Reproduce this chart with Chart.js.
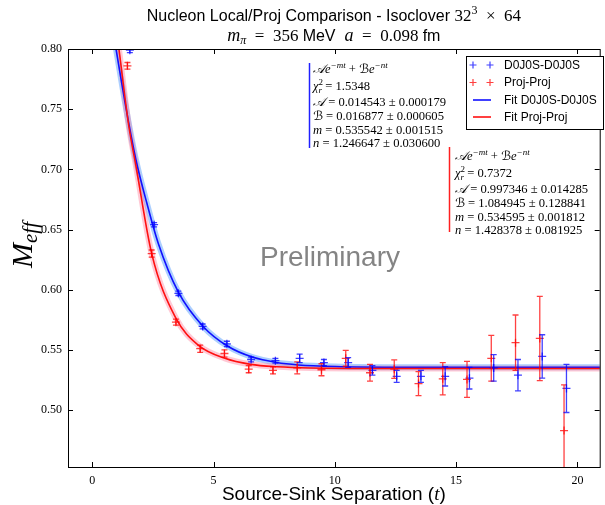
<!DOCTYPE html>
<html><head><meta charset="utf-8">
<script src="https://cdn.jsdelivr.net/npm/chart.js@4.4.0/dist/chart.umd.min.js"></script>
<style>html,body{margin:0;padding:0;background:#fff;}#wrap{width:605px;height:505px;}</style>
</head><body><div id="wrap"><canvas id="c" width="605" height="505"></canvas></div>
<script>
// ---------------- data ----------------
const separations = [1.5,2.5,3.5,4.5,5.5,6.5,7.5,8.5,9.5,10.5,11.5,12.5,13.5,14.5,15.5,16.5,17.5,18.5,19.5];
const d0j0sValues = [0.799,0.654,0.597,0.5695,0.555,0.542,0.541,0.543,0.5395,0.5395,0.533,0.528,0.528,0.528,0.5265,0.535,0.529,0.5446,0.518];
const d0j0sErrors = [0.002,0.0018,0.0018,0.002,0.0022,0.002,0.002,0.0035,0.0025,0.004,0.004,0.005,0.005,0.008,0.009,0.011,0.013,0.018,0.020];
const projValues  = [0.786,0.630,0.573,0.551,0.547,0.534,0.533,0.535,0.5335,0.543,0.531,0.534,0.522,0.526,0.5255,0.543,0.556,0.5595,0.483];
const projErrors  = [0.0028,0.003,0.0025,0.003,0.003,0.003,0.003,0.005,0.005,0.0066,0.007,0.0077,0.010,0.0134,0.015,0.019,0.023,0.035,0.038];

const fitD0j0sT = [0.98,1.4,1.8,2.25,2.73,3.55,4.57,5.59,6.6,7.6,8.5,10,13,21];
const fitD0j0sM = [0.800,0.750,0.708,0.672,0.638,0.598,0.5695,0.553,0.544,0.5395,0.5375,0.5362,0.5356,0.5355];
const fitProjT  = [1.1,1.5,1.8,2.45,3.43,4.37,5.47,6.53,7.63,9,12,21];
const fitProjM  = [0.800,0.737,0.703,0.630,0.577,0.554,0.543,0.538,0.536,0.535,0.5346,0.5346];

const xTicks = [0,5,10,15,20];
const yTicks = [0.50,0.55,0.60,0.65,0.70,0.75,0.80];

const legendLabels = ['D0J0S-D0J0S','Proj-Proj','Fit D0J0S-D0J0S','Fit Proj-Proj'];
const fitD0j0sParams = {chi:'1.5348', A:'0.014543', dA:'0.000179', B:'0.016877', dB:'0.000605', m:'0.535542', dm:'0.001515', n:'1.246647', dn:'0.030600'};
const fitProjParams  = {chi:'0.7372', A:'0.997346', dA:'0.014285', B:'1.084945', dB:'0.128841', m:'0.534595', dm:'0.001812', n:'1.428378', dn:'0.081925'};

// ---------------- styling ----------------
const BLUE = 'rgba(0,0,255,0.75)', RED = 'rgba(255,0,0,0.75)';
const SERIF = '"Liberation Serif","DejaVu Serif",serif';
const SANS = '"Liberation Sans",Arial,sans-serif';
const CAL = '"DejaVu Serif","DejaVu Sans","Noto Sans",serif';
const dodge = 0.05;

const pts = (xs, ys) => xs.map((x,i)=>({x, y: ys[i]}));

function drawRich(ctx, x, y, segs, align){
  let w = 0;
  for (const s of segs){ ctx.font = s.f; if(!s.noAdv) w += ctx.measureText(s.t).width; }
  let cx = align === 'center' ? x - w/2 : x;
  ctx.textBaseline = 'alphabetic'; ctx.textAlign = 'left';
  for (const s of segs){
    ctx.font = s.f;
    ctx.fillText(s.t, cx, y + (s.dy||0));
    if(!s.noAdv) cx += ctx.measureText(s.t).width;
  }
}

function annotationLines(p){
  const rm = '12.6px '+SERIF, it = 'italic 12.6px '+SERIF, sm = 'italic 9px '+SERIF, smr = '9px '+SERIF, cal = 'italic 12.6px '+CAL;
  return [
    [{t:'𝒜',f:cal},{t:'e',f:it},{t:'−mt',f:sm,dy:-5},{t:' + ',f:rm},{t:'ℬ',f:cal},{t:'e',f:it},{t:'−nt',f:sm,dy:-5}],
    [{t:'χ',f:it},{t:'2',f:smr,dy:-5,noAdv:true},{t:'r',f:sm,dy:3},{t:' = '+p.chi,f:rm}],
    [{t:'𝒜',f:cal},{t:' = '+p.A+' ± '+p.dA,f:rm}],
    [{t:'ℬ',f:cal},{t:' = '+p.B+' ± '+p.dB,f:rm}],
    [{t:'m',f:it},{t:' = '+p.m+' ± '+p.dm,f:rm}],
    [{t:'n',f:it},{t:' = '+p.n+' ± '+p.dn,f:rm}]
  ];
}

function drawCross(ctx, x, y, r){
  ctx.beginPath(); ctx.moveTo(x-r,y); ctx.lineTo(x+r,y); ctx.moveTo(x,y-r); ctx.lineTo(x,y+r); ctx.stroke();
}

const deco = {
  id:'deco',
  beforeDatasetsDraw(chart){
    const ctx = chart.ctx;
    ctx.save();
    ctx.fillStyle = 'rgba(125,125,125,0.95)';
    ctx.font = '28px '+SANS; ctx.textAlign='center'; ctx.textBaseline='middle';
    ctx.fillText('Preliminary', 330, 258);
    ctx.restore();
  },
  afterDatasetsDraw(chart){
    const ctx = chart.ctx, a = chart.chartArea, xs = chart.scales.x, ys = chart.scales.y;
    // error bars
    ctx.save();
    ctx.beginPath(); ctx.rect(a.left,a.top,a.right-a.left,a.bottom-a.top); ctx.clip();
    const errs = (vals, errs, off, col) => {
      ctx.strokeStyle = col; ctx.lineWidth = 1.3;
      vals.forEach((v,i)=>{
        const px = xs.getPixelForValue(separations[i]+off);
        const y1 = ys.getPixelForValue(v - errs[i]), y2 = ys.getPixelForValue(v + errs[i]);
        ctx.beginPath();
        ctx.moveTo(px,y1); ctx.lineTo(px,y2);
        ctx.moveTo(px-3,y1); ctx.lineTo(px+3,y1);
        ctx.moveTo(px-3,y2); ctx.lineTo(px+3,y2);
        ctx.stroke();
      });
    };
    errs(projValues, projErrors, -dodge, RED);
    errs(d0j0sValues, d0j0sErrors, dodge, BLUE);
    ctx.restore();

    // frame and inward ticks
    ctx.save();
    ctx.strokeStyle = '#000'; ctx.lineWidth = 1;
    ctx.strokeRect(Math.round(a.left)+0.5, Math.round(a.top)+0.5, a.right-a.left, a.bottom-a.top);
    ctx.beginPath();
    xTicks.forEach(v=>{ const px = Math.round(xs.getPixelForValue(v))+0.5;
      ctx.moveTo(px,a.bottom); ctx.lineTo(px,a.bottom-5); ctx.moveTo(px,a.top); ctx.lineTo(px,a.top+5); });
    yTicks.forEach(v=>{ const py = Math.round(ys.getPixelForValue(v))+0.5;
      ctx.moveTo(a.left,py); ctx.lineTo(a.left+5,py); ctx.moveTo(a.right,py); ctx.lineTo(a.right-5,py); });
    ctx.stroke();
    ctx.restore();

    // fit annotations
    ctx.save();
    ctx.fillStyle = '#000';
    const offs = [0,17,33,47,61,74];
    ctx.lineWidth = 1.5;
    ctx.strokeStyle = '#2020ff';
    ctx.beginPath(); ctx.moveTo(309.5,63); ctx.lineTo(309.5,148); ctx.stroke();
    annotationLines(fitD0j0sParams).forEach((l,i)=>drawRich(ctx, 313, 73+offs[i], l));
    ctx.strokeStyle = '#ff2020';
    ctx.beginPath(); ctx.moveTo(449.5,147); ctx.lineTo(449.5,232); ctx.stroke();
    annotationLines(fitProjParams).forEach((l,i)=>drawRich(ctx, 455, 160+offs[i], l));
    ctx.restore();

    // legend
    ctx.save();
    ctx.fillStyle = '#fff';
    ctx.fillRect(466.5,56.5,137,73);
    ctx.strokeStyle = '#000'; ctx.lineWidth = 1;
    ctx.strokeRect(466.5,56.5,137,73);
    const ly = [65,82.5,100,117];
    ctx.lineWidth = 1.2;
    ctx.strokeStyle = BLUE; drawCross(ctx,473,ly[0],3.5); drawCross(ctx,490,ly[0],3.5);
    ctx.strokeStyle = RED;  drawCross(ctx,473,ly[1],3.5); drawCross(ctx,490,ly[1],3.5);
    ctx.lineWidth = 1.5;
    ctx.strokeStyle = 'blue'; ctx.beginPath(); ctx.moveTo(473,ly[2]); ctx.lineTo(491,ly[2]); ctx.stroke();
    ctx.strokeStyle = 'red';  ctx.beginPath(); ctx.moveTo(473,ly[3]); ctx.lineTo(491,ly[3]); ctx.stroke();
    ctx.fillStyle = '#000'; ctx.font = '12px '+SANS; ctx.textAlign='left'; ctx.textBaseline='middle';
    legendLabels.forEach((s,i)=>ctx.fillText(s, 504, ly[i]+0.5));
    ctx.restore();
  },
  afterDraw(chart){
    const ctx = chart.ctx, a = chart.chartArea;
    ctx.save(); ctx.fillStyle = '#000';
    const cx = (a.left + a.right)/2;
    drawRich(ctx, cx, 21, [
      {t:'Nucleon Local/Proj Comparison - Isoclover ', f:'16px '+SANS},
      {t:'32', f:'17px '+SERIF},{t:'3', f:'12px '+SERIF, dy:-7},{t:'  ×  64', f:'17px '+SERIF}
    ], 'center');
    drawRich(ctx, cx, 41, [
      {t:'m', f:'italic 18px '+SERIF},{t:'π', f:'italic 12px '+SERIF, dy:3},
      {t:'  =  356 ', f:'17px '+SERIF},{t:'MeV', f:'16px '+SANS},
      {t:'  a', f:'italic 18px '+SERIF},{t:'  =  0.098 ', f:'17px '+SERIF},{t:'fm', f:'16px '+SANS}
    ], 'center');
    // x axis title
    drawRich(ctx, cx, 500, [
      {t:'Source-Sink Separation (', f:'19px '+SANS},{t:'t', f:'italic 19px '+SERIF},{t:')', f:'19px '+SANS}
    ], 'center');
    // y axis title
    ctx.translate(32, 245); ctx.rotate(-Math.PI/2);
    drawRich(ctx, 0, 0, [{t:'M', f:'italic 30px '+SERIF},{t:'eff', f:'italic 21px '+SERIF, dy:5}], 'center');
    ctx.restore();
  }
};

new Chart(document.getElementById('c'), {
  type:'scatter',
  data:{ datasets:[
    {label:'Proj-Proj', data: pts(separations.map(t=>t-dodge), projValues), showLine:false,
      pointStyle:'cross', pointRadius:4, pointBorderWidth:1.3, borderColor:RED, backgroundColor:RED},
    {label:'D0J0S-D0J0S', data: pts(separations.map(t=>t+dodge), d0j0sValues), showLine:false,
      pointStyle:'cross', pointRadius:4, pointBorderWidth:1.3, borderColor:BLUE, backgroundColor:BLUE},
    {label:'Fit Proj-Proj', data: pts(fitProjT, fitProjM), showLine:true, pointRadius:0, borderColor:'#ff1010', borderWidth:1.6, cubicInterpolationMode:'monotone'},
    {label:'Fit D0J0S-D0J0S', data: pts(fitD0j0sT, fitD0j0sM), showLine:true, pointRadius:0, borderColor:'#1010ff', borderWidth:1.6, cubicInterpolationMode:'monotone'},
    {label:'band p', data: pts(fitProjT, fitProjM), showLine:true, pointRadius:0, borderColor:'rgba(255,120,150,0.4)', borderWidth:6, cubicInterpolationMode:'monotone'},
    {label:'band d', data: pts(fitD0j0sT, fitD0j0sM), showLine:true, pointRadius:0, borderColor:'rgba(90,160,255,0.5)', borderWidth:6, cubicInterpolationMode:'monotone'}
  ]},
  options:{
    responsive:false, animation:false, devicePixelRatio:1,
    layout:{padding:{top:49,left:0,right:0,bottom:0}},
    plugins:{legend:{display:false}, tooltip:{enabled:false}},
    scales:{
      x:{type:'linear', min:-1, max:20.92,
        afterBuildTicks:s=>{s.ticks = xTicks.map(v=>({value:v}));},
        afterFit:s=>{s.height = 38;},
        grid:{display:false, drawTicks:false}, border:{display:false},
        ticks:{padding:7, color:'#000', font:{family:SERIF, size:12}, callback:v=>String(v), maxRotation:0}},
      y:{type:'linear', min:0.4527, max:0.80,
        afterBuildTicks:s=>{s.ticks = yTicks.map(v=>({value:v}));},
        afterFit:s=>{s.width = 68;},
        grid:{display:false, drawTicks:false}, border:{display:false},
        ticks:{padding:6, color:'#000', font:{family:SERIF, size:12}, callback:v=>Number(v).toFixed(2)}}
    }
  },
  plugins:[deco]
});
</script></body></html>
